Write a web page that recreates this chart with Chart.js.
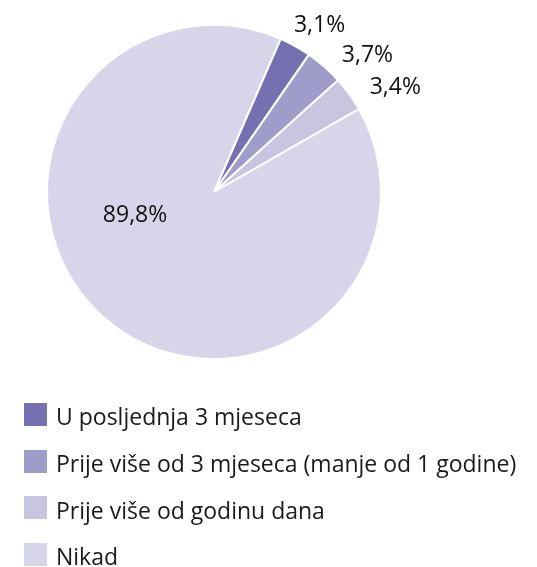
<!DOCTYPE html>
<html>
<head>
<meta charset="utf-8">
<script src="https://cdn.jsdelivr.net/npm/chart.js@4/dist/chart.umd.min.js"></script>
<style>
  html, body { margin: 0; padding: 0; background: #fff; }
  #wrap { position: relative; width: 537px; height: 567px; overflow: hidden; }
  #legend { position: absolute; left: 24px; top: 391px; font-family: "Open Sans", sans-serif; font-size: 23px; color: #1a1a1a; }
  .item { display: flex; align-items: center; height: 46.7px; white-space: nowrap; }
  .box { width: 23px; height: 23px; margin-right: 9px; flex: none; }
  .item span { position: relative; top: 2px; }
</style>
</head>
<body>
<div id="wrap">
  <canvas id="pie" width="537" height="567"></canvas>
  <div id="legend"></div>
</div>
<script>
// podaci
var categories = ['U posljednja 3 mjeseca', 'Prije više od 3 mjeseca (manje od 1 godine)', 'Prije više od godinu dana', 'Nikad']
var values = [3.1, 3.7, 3.4, 89.8]
var valueLabels = ['3,1%', '3,7%', '3,4%', '89,8%']
var colors = ['#7670b0', '#a09cca', '#c8c5e1', '#d7d5ea']

// natpisi postotaka (kut u odnosu na sredinu isječka, udaljenost u odnosu na polumjer)
var pctLabels = {
    id: 'pctLabels',
    afterDatasetsDraw: function (chart, args, opts) {
        var ctx = chart.ctx
        var arcs = chart.getDatasetMeta(0).data
        ctx.save()
        ctx.font = opts.font
        ctx.fillStyle = opts.color
        ctx.textAlign = 'center'
        ctx.textBaseline = 'middle'
        arcs.forEach(function (arc, i) {
            var p = arc.getProps(['x', 'y', 'startAngle', 'endAngle', 'outerRadius'], true)
            var nudge = opts.nudge[i]
            var a = (p.startAngle + p.endAngle) / 2 + nudge.deg * Math.PI / 180
            var d = p.outerRadius * nudge.r
            ctx.fillText(valueLabels[i], p.x + Math.cos(a) * d, p.y + Math.sin(a) * d + 2)
        })
        ctx.restore()
    }
}

var chart = new Chart(document.getElementById('pie').getContext('2d'), {
    type: 'pie',
    data: {
        labels: categories,
        datasets: [{
            data: values,
            backgroundColor: colors,
            borderColor: '#ffffff',
            borderWidth: 2
        }]
    },
    options: {
        responsive: false,
        animation: false,
        rotation: 23.5,
        layout: { padding: { left: 46, right: 155, top: 24, bottom: 207 } },
        plugins: {
            legend: { display: false },
            tooltip: { enabled: false },
            pctLabels: {
                font: '23px "Open Sans", sans-serif',
                color: '#111111',
                nudge: [{ deg: 3, r: 1.19 }, { deg: 6.5, r: 1.24 }, { deg: 5.4, r: 1.26 }, { deg: 32.9, r: 0.49 }]
            }
        }
    },
    plugins: [pctLabels]
})

// legenda
var legend = document.getElementById('legend')
categories.forEach(function (name, i) {
    var row = document.createElement('div')
    row.className = 'item'
    row.innerHTML = '<div class="box" style="background:' + colors[i] + '"></div><span>' + name + '</span>'
    legend.appendChild(row)
})
</script>
</body>
</html>
